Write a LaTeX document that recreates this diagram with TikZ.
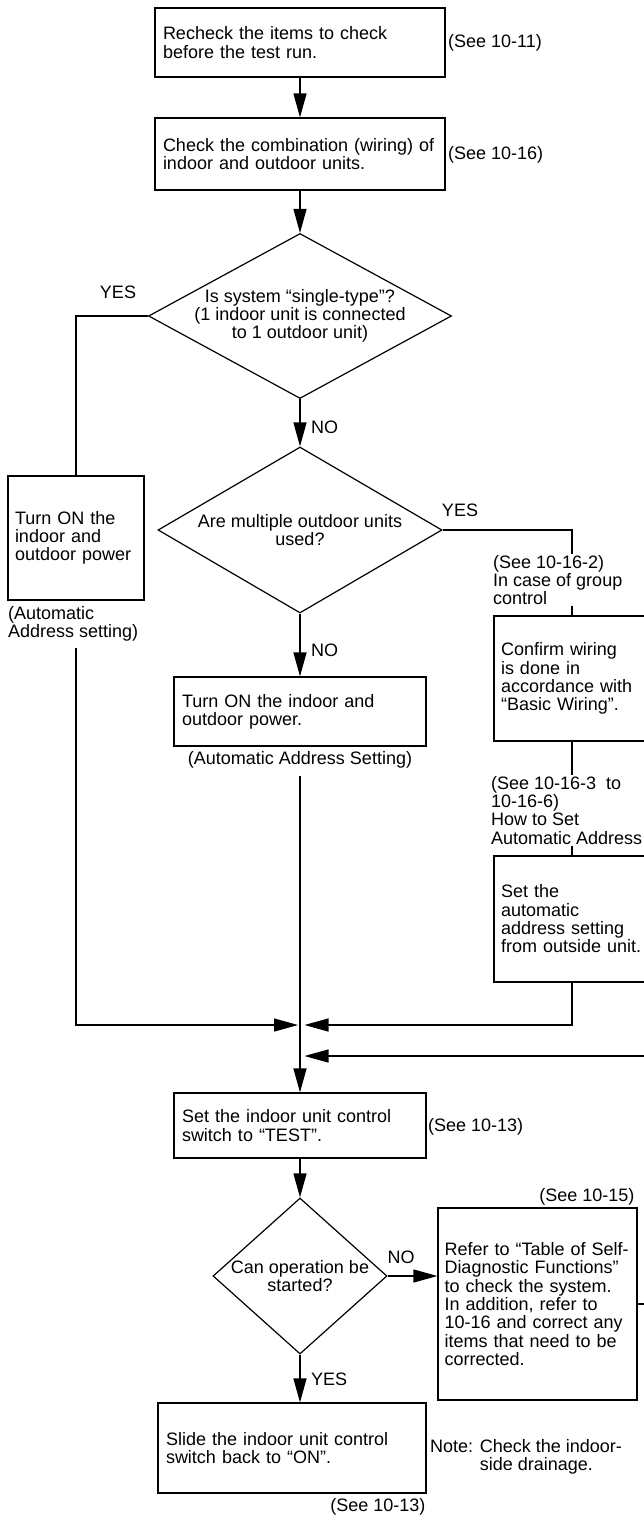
\documentclass[tikz,border=0pt]{standalone}
\usepackage{fontspec}
\setmainfont{Liberation Sans}
\usetikzlibrary{shapes.geometric, arrows.meta, positioning}

\begin{document}
\begin{tikzpicture}[
        x=1pt, y=-1pt,
        font=\fontsize{18}{18.3}\selectfont,
        box/.style={rectangle, draw, line width=1.2pt, inner xsep=8pt, inner ysep=0pt, align=left},
        decision/.style={diamond, draw, line width=1.2pt, aspect=2, inner xsep=-30pt, inner ysep=0pt, align=center},
        note/.style={inner sep=1pt, align=left},
        wire/.style={line width=1.2pt},
        arrow/.style={-{Triangle[length=24pt, width=13pt]}, line width=1.2pt}
    ]
        \useasboundingbox (0,0) rectangle (644,1518);
        \clip (0,0) rectangle (644,1518);

        % Main column
        \node[box, text width=274pt, minimum height=69pt] (recheck) at (300,42.5) {Recheck the items to check\\before the test run.};
        \node[note, anchor=west] (see1) at (447,43) {(See 10-11)};
        \node[box, text width=274pt, minimum height=72pt] (combo) at (300,154) {Check the combination (wiring) of\\indoor and outdoor units.};
        \node[note, anchor=west] (see2) at (447,155) {(See 10-16)};
        \node[decision, minimum width=303pt, minimum height=165pt] (single) at (300,316) {Is system “single-type”?\\(1 indoor unit is connected\\to 1 outdoor unit)};
        \node[decision, minimum width=284pt, minimum height=166pt] (multi) at (300,530) {Are multiple outdoor units\\used?};
        \node[box, text width=236pt, minimum height=69pt] (powerM) at (300,711.5) {Turn ON the indoor and\\outdoor power.};
        \node[note] (autoM) at (300,760) {(Automatic Address Setting)};
        \node[box, text width=236pt, minimum height=65pt] (testsw) at (300,1125.5) {Set the indoor unit control\\switch to “TEST”.};
        \node[note, anchor=west] (see5) at (427,1127) {(See 10-13)};
        \node[decision, minimum width=174pt, minimum height=156pt] (canrun) at (300,1276) {Can operation be\\started?};
        \node[box, text width=252pt, minimum height=90pt] (slide) at (292,1448) {Slide the indoor unit control\\switch back to “ON”.};
        \node[note, below left=4pt and 0pt of slide.south east] (see7) {(See 10-13)};
        \node[note, anchor=west] (drain) at (429,1457) {Note: Check the indoor-\\\phantom{Note: }side drainage.};

        % Left branch
        \node[box, text width=122pt, inner xsep=7pt, minimum height=124pt] (powerL) at (76,538) {Turn ON the\\indoor and\\outdoor power};
        \node[note, anchor=north west] (autoL) at (7,605) {(Automatic\\Address setting)};

        % Right branch
        \node[note, anchor=north west] (grp) at (492,554) {(See 10-16-2)\\In case of group\\control};
        \node[box, text width=142pt, inner xsep=7pt, minimum height=125pt] (confirm) at (572,678.5) {Confirm wiring\\is done in\\accordance with\\“Basic Wiring”.};
        \node[note, anchor=north west] (howto) at (490,775) {(See 10-16-3\ \ to\\10-16-6)\\How to Set\\Automatic Address};
        \node[box, text width=142pt, inner xsep=7pt, minimum height=126pt] (setauto) at (572,919) {Set the\\automatic\\address setting\\from outside unit.};
        \node[box, text width=186pt, inner xsep=6.5pt, minimum height=192pt] (refer) at (537.5,1304) {Refer to “Table of Self-\\Diagnostic Functions”\\to check the system.\\In addition, refer to\\10-16 and correct any\\items that need to be\\corrected.};
        \node[note, above left=1pt and 2pt of refer.north east] (see6) {(See 10-15)};

        % Branch labels
        \node[note] (yes1) at (118,292) {YES};
        \node[note, anchor=west] (no1) at (310,427) {NO};
        \node[note] (yes2) at (460,510) {YES};
        \node[note, anchor=west] (no2) at (310,650) {NO};
        \node[note] (no3) at (401,1257) {NO};
        \node[note, anchor=west] (yes3) at (310,1379) {YES};

        \coordinate (joinA) at (300,1025);
        \coordinate (joinB) at (300,1056);

        % Connectors
        \draw[arrow] (recheck) -- (combo);
        \draw[arrow] (combo) -- (single);
        \draw[arrow] (single) -- (multi);
        \draw[arrow] (multi) -- (powerM);
        \draw[arrow] (autoM.south) ++(0,6) -- (testsw.north);
        \draw[arrow] (testsw) -- (canrun);
        \draw[arrow] (canrun) -- (canrun.south |- slide.north);
        \draw[arrow] (canrun.east) -- (canrun.east -| refer.west);
        \draw[wire] (single.west) -| (powerL.north);
        \draw[arrow, shorten >=2pt] (autoL.south -| powerL.south) ++(0,6) |- (joinA);
        \draw[wire] (multi.east) -| (grp.north -| confirm.north);
        \draw[wire] (grp.south -| confirm.north) -- (confirm.north);
        \draw[wire] (confirm.south) -- (howto.north -| confirm.south);
        \draw[wire] (howto.south -| setauto.north) -- (setauto.north);
        \draw[arrow, shorten >=4.5pt] (setauto.south) |- (joinA);
        \draw[arrow, shorten >=4.5pt] (refer.east) -- ++(30,0) |- (joinB);

\end{tikzpicture}
\end{document}
